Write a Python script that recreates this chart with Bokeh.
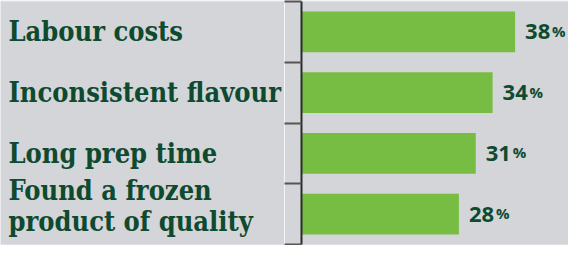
from bokeh.plotting import figure
from bokeh.layouts import row
from bokeh.models import FactorRange, Range1d, FixedTicker, ColumnDataSource
from bokeh.embed import file_html
from bokeh.resources import INLINE
from bokeh.core.properties import value

categories = ["Labour costs", "Inconsistent flavour", "Long prep time",
              "Found a frozen\nproduct of quality"]
values = [38, 34, 31, 28]
value_labels = ["38", "34", "31", "28"]
label_x = [0, 0, 0, 0]

BG = "#d4d5d8"
GREEN = "#77bc43"
DARK = "#0e4a2f"

n = len(categories)
slot = [n - i - 0.5 for i in range(n)]   # numeric slot of each category (top to bottom)
lift = [-8 * c.count("\n") for c in categories]  # multi-line labels sit a little higher
src = ColumnDataSource(dict(cat=categories, val=values, lab=value_labels,
                            pct=["%"] * n, lx=label_x, slot=slot, lift=lift))

# left panel: category names
left = figure(width=284, height=245, y_range=FactorRange(factors=categories[::-1]),
              x_range=Range1d(0, 1),
              output_backend="svg", toolbar_location=None,
              x_axis_location=None, y_axis_location=None,
              min_border_left=0, min_border_right=0, min_border_top=1, min_border_bottom=1,
              background_fill_color=BG, border_fill_color=BG, outline_line_color=None)
left.grid.visible = False
left.text(x="lx", y="cat", text="cat", source=src, x_offset=8, y_offset="lift",
          text_font=value("DejaVu Serif Condensed"), text_font_style="bold",
          text_font_size="27px", text_color=DARK, text_align="left",
          text_baseline="middle", text_line_height=1.0)

# right panel: bars
p = figure(width=284, height=245, y_range=Range1d(0, n), x_range=Range1d(0, 47.5),
           output_backend="svg", toolbar_location=None,
           x_axis_location=None, y_axis_location="left",
           min_border_left=17, min_border_right=0, min_border_top=1, min_border_bottom=1,
           background_fill_color=BG, border_fill_color=BG, outline_line_color=None)
p.grid.visible = False
ax = p.yaxis[0]
ax.ticker = FixedTicker(ticks=list(range(n + 1)), minor_ticks=[])
ax.major_label_overrides = {i: "" for i in range(n + 1)}
ax.major_label_standoff = 0
ax.major_tick_out = 17
ax.major_tick_in = 0
ax.minor_tick_line_color = None
ax.major_tick_line_color = "#555555"
ax.major_tick_line_width = 2
ax.axis_line_color = "#2a2a2a"
ax.axis_line_width = 2

p.hbar(y="slot", right="val", left=0, height=0.67, source=src,
       fill_color=GREEN, line_color=None)
p.text(x="val", y="slot", text="lab", source=src, x_offset=10,
       text_font=value("Open Sans"), text_font_style="bold",
       text_font_size="22px", text_color=DARK, text_align="left",
       text_baseline="middle")
p.text(x="val", y="slot", text="pct", source=src, x_offset=37, y_offset=-1,
       text_font=value("Open Sans"), text_font_style="bold",
       text_font_size="15px", text_color=DARK, text_align="left",
       text_baseline="middle")

layout = row(left, p, spacing=0)
open("out.html", "w").write(file_html(layout, INLINE))
